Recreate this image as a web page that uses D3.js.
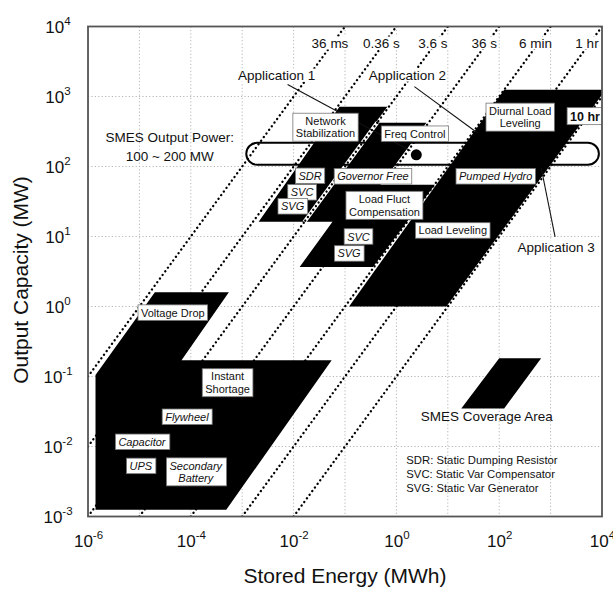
<!DOCTYPE html>
<html>
<head>
<meta charset="utf-8">
<script src="https://cdn.jsdelivr.net/npm/d3@7"></script>
<style>
  body { margin: 0; background: #fff; }
  text { font-family: "Liberation Sans", Arial, sans-serif; fill: #111; }
</style>
</head>
<body>
<svg id="chart" width="613" height="589"></svg>
<script>
// ---- data (stored energy MWh, output capacity MW) ----
var xTickVals = [1e-6, 1e-4, 1e-2, 1, 1e2, 1e4];
var xTickExp  = ["-6", "-4", "-2", "0", "2", "4"];
var yTickVals = [1e-3, 1e-2, 1e-1, 1, 1e1, 1e2, 1e3, 1e4];
var yTickExp  = ["-3", "-2", "-1", "0", "1", "2", "3", "4"];
var gridE = [1e-6, 1e-5, 1e-4, 1e-3, 1e-2, 1e-1, 1, 1e1, 1e2, 1e3, 1e4];
var gridP = [1e-3, 1e-2, 1e-1, 1, 1e1, 1e2, 1e3, 1e4];

// discharge time lines (hours) and their labels
var timeHours  = [1e-5, 1e-4, 1e-3, 1e-2, 0.1, 1, 10];
var timeLabels = ["36 ms", "0.36 s", "3.6 s", "36 s", "6 min", "1 hr", "10 hr"];

// black regions, vertices as [E, P]
var smallArea = [[1.4e-6, 0.105], [2e-5, 1.6], [5.5e-4, 1.6], [6.6e-5, 0.17], [0.055, 0.17],
                 [4.9e-4, 1.25e-3], [1.4e-6, 1.25e-3]];
var midArea = [[0.078, 716], [0.668, 716], [0.391, 423], [3.83, 423], [0.489, 54.7], [5.6, 54.7],
               [0.35, 3.67], [0.0131, 3.67], [0.0571, 16.2], [2.09e-3, 16.2]];
var bulkArea = [[125, 1250], [1e4, 1250], [1e4, 1060], [9.4, 1.0], [0.12, 1.0]];
var smesArea = [[100, 0.183], [655, 0.183], [125, 0.035], [18.3, 0.035]];
// visible gap inside the middle group, along the 3.6 s line
var midGap = [[0.423, 423], [0.0162, 16.2]];

// SMES output power band 100~200 MW
var pillE = [1.2e-3, 8700];
var pillP = [106, 218];
var smesPoint = [2.44, 147];

// boxed labels: text lines, E, P (box centre)
var boxLabels = [
  [["Voltage Drop"], 4.47e-5, 0.818],
  [["Instant", "Shortage"], 5.2e-4, 0.0815],
  [["Flywheel"], 8.4e-5, 0.0266],
  [["Capacitor"], 1.12e-5, 0.01167],
  [["UPS"], 1.07e-5, 5.28e-3],
  [["Secondary", "Battery"], 1.25e-4, 4.34e-3],
  [["Network", "Stabilization"], 0.0418, 364],
  [["Freq Control"], 2.29, 294],
  [["SDR"], 0.0209, 73.6],
  [["SVC"], 0.01462, 42.8],
  [["SVG"], 9.57e-3, 27.0],
  [["Governor Free"], 0.35, 72.4],
  [["Load Fluct", "Compensation"], 0.585, 27.9],
  [["SVC"], 0.183, 10.0],
  [["SVG"], 0.12, 5.73],
  [["Pumped Hydro"], 85.5, 72.4],
  [["Load Leveling"], 12.5, 12.2],
  [["Diurnal Load", "Leveling"], 256, 507]
];
var italicNames = ["Flywheel", "Capacitor", "UPS", "Secondary", "SDR", "SVC", "SVG", "Governor Free", "Pumped Hydro"];

var appLabels = [["Application 1", 4.68e-3, 1740], ["Application 2", 1.64, 1740], ["Application 3", 1280, 6.0]];
var appLeaders = [[[7.64e-3, 1479], [1.87, 168]], [[2.24, 1384], [37.4, 304]], [[655, 96], [1222, 9.86]]];
var legendLines = ["SDR: Static Dumping Resistor", "SVC: Static Var Compensator", "SVG: Static Var Generator"];
var legendP = [5.56e-3, 3.5e-3, 2.21e-3];

// ---- chart ----
var svg = d3.select("#chart");
var x = d3.scaleLog().domain([1e-6, 1e4]).range([88, 602]);
var y = d3.scaleLog().domain([1e-3, 1e4]).range([516.5, 26.5]);
var pTop = y.range()[1], pBottom = y.range()[0], pLeft = x.range()[0], pRight = x.range()[1];

svg.append("defs").append("clipPath").attr("id", "plotclip")
  .append("rect").attr("x", pLeft).attr("y", pTop).attr("width", pRight - pLeft).attr("height", pBottom - pTop);

var plot = svg.append("g").attr("clip-path", "url(#plotclip)");

// grid
plot.selectAll(".gx").data(gridE).enter().append("line")
  .attr("x1", function(d) { return x(d); }).attr("x2", function(d) { return x(d); })
  .attr("y1", pTop).attr("y2", pBottom)
  .attr("stroke", "#b5b5b5").attr("stroke-width", 1).attr("stroke-dasharray", "1.2,2.2");
plot.selectAll(".gy").data(gridP).enter().append("line")
  .attr("y1", function(d) { return y(d); }).attr("y2", function(d) { return y(d); })
  .attr("x1", pLeft).attr("x2", pRight)
  .attr("stroke", "#b5b5b5").attr("stroke-width", 1).attr("stroke-dasharray", "1.2,2.2");

// constant time lines
function dotted(sel) {
  return sel.attr("stroke", "#000").attr("stroke-width", 2.3)
    .attr("stroke-linecap", "round").attr("stroke-dasharray", "0.1,4.4");
}
dotted(plot.selectAll(".tl").data(timeHours).enter().append("line")
  .attr("x1", function(t) { return x(Math.max(1e-6, 1e-3 * t)); })
  .attr("y1", function(t) { return y(Math.max(1e-6, 1e-3 * t) / t); })
  .attr("x2", function(t) { return x(Math.min(1e4, 1e4 * t)); })
  .attr("y2", function(t) { return y(Math.min(1e4, 1e4 * t) / t); }));

// black areas
var area = d3.line().x(function(d) { return x(d[0]); }).y(function(d) { return y(d[1]); });
plot.selectAll(".blk").data([smallArea, midArea, bulkArea, smesArea]).enter().append("path")
  .attr("d", function(d) { return area(d) + "Z"; })
  .attr("fill", "#000");

// gap with dotted line through the middle group
plot.append("path").attr("d", area(midGap)).attr("stroke", "#fff").attr("stroke-width", 4).attr("fill", "none");
dotted(plot.append("path").attr("d", area(midGap)).attr("fill", "none"));

// SMES output band
var ph = y(pillP[0]) - y(pillP[1]);
plot.append("rect")
  .attr("x", x(pillE[0])).attr("y", y(pillP[1]))
  .attr("width", x(pillE[1]) - x(pillE[0])).attr("height", ph)
  .attr("rx", ph / 2).attr("ry", ph / 2)
  .attr("fill", "none").attr("stroke", "#000").attr("stroke-width", 2);
plot.append("circle").attr("cx", x(smesPoint[0])).attr("cy", y(smesPoint[1])).attr("r", 5.5).attr("fill", "#000");

// leaders
plot.selectAll(".lead").data(appLeaders).enter().append("line")
  .attr("x1", function(d) { return x(d[0][0]); }).attr("y1", function(d) { return y(d[0][1]); })
  .attr("x2", function(d) { return x(d[1][0]); }).attr("y2", function(d) { return y(d[1][1]); })
  .attr("stroke", "#111").attr("stroke-width", 1.1);

// boxed labels
var lineH = 12.5;
boxLabels.forEach(function(b) {
  var g = plot.append("g");
  var cx = x(b[1]), cy = y(b[2]);
  var italic = italicNames.indexOf(b[0][0]) >= 0;
  var rect = g.append("rect");
  var t = g.append("text").attr("text-anchor", "middle").attr("font-size", 11)
    .attr("font-style", italic ? "italic" : "normal").attr("fill", "#222");
  b[0].forEach(function(s, i) {
    t.append("tspan").attr("x", cx)
      .attr("y", cy + 4 + (i - (b[0].length - 1) / 2) * lineH).text(s);
  });
  var bb = t.node().getBBox();
  rect.attr("x", bb.x - 3).attr("y", cy - b[0].length * lineH / 2 - 1.5)
    .attr("width", bb.width + 6).attr("height", b[0].length * lineH + 3)
    .attr("fill", "#fff").attr("stroke", "#777").attr("stroke-width", 0.8);
});

// 10 hr label box
(function() {
  var g = plot.append("g");
  var cx = x(4680), cy = y(524);
  var rect = g.append("rect");
  var t = g.append("text").attr("x", cx).attr("y", cy + 4.5).attr("text-anchor", "middle")
    .attr("font-size", 12.5).attr("font-weight", "bold").text(timeLabels[6]);
  var bb = t.node().getBBox();
  rect.attr("x", bb.x - 3).attr("y", cy - 8.5).attr("width", bb.width + 6).attr("height", 17)
    .attr("fill", "#fff").attr("stroke", "#777").attr("stroke-width", 0.8);
})();

// text on a white patch so the dotted lines pass behind it
function backed(g, tx, ty, str, size) {
  var r = g.append("rect").attr("fill", "#fff");
  var t = g.append("text").attr("x", tx).attr("y", ty).attr("text-anchor", "middle")
    .attr("font-size", size).text(str);
  var bb = t.node().getBBox();
  r.attr("x", bb.x - 1).attr("y", bb.y + 1).attr("width", bb.width + 2).attr("height", bb.height - 2);
  return t;
}

// time labels along top
timeHours.slice(0, 6).forEach(function(t, i) {
  backed(svg.append("g"), x(1e4 * t) - 15, pTop + 21, timeLabels[i], 13.5);
});

// application labels
appLabels.forEach(function(d) {
  backed(svg.append("g"), x(d[1]), y(d[2]), d[0], 13.5);
});

svg.append("text").attr("x", x(3.9e-5)).attr("y", y(226)).attr("text-anchor", "middle")
  .attr("font-size", 13.5).text("SMES Output Power:");
svg.append("text").attr("x", x(3.9e-5)).attr("y", y(121)).attr("text-anchor", "middle")
  .attr("font-size", 13.5).text("100 ~ 200 MW");
svg.append("text").attr("x", x(57.2)).attr("y", y(0.0229)).attr("text-anchor", "middle")
  .attr("font-size", 13.5).text("SMES Coverage Area");

svg.selectAll(".leg").data(legendLines).enter().append("text")
  .attr("x", x(1.56)).attr("y", function(d, i) { return y(legendP[i]); })
  .attr("font-size", 11.3).attr("fill", "#333")
  .text(function(d) { return d; });

// axes
var xAxis = svg.append("g").attr("transform", "translate(0," + pBottom + ")")
  .call(d3.axisBottom(x).tickValues(xTickVals).tickSize(0).tickFormat(""));
xAxis.select(".domain").remove();
xAxis.selectAll(".tick text").each(function(d, i) {
  var t = d3.select(this).attr("y", 30.5).attr("dy", null).attr("font-size", 17)
    .attr("font-family", "Liberation Sans, Arial, sans-serif").attr("fill", "#222");
  t.append("tspan").text("10");
  t.append("tspan").attr("dy", -8).attr("font-size", 11.5).text(xTickExp[i]);
});

var yAxis = svg.append("g").attr("transform", "translate(" + pLeft + ",0)")
  .call(d3.axisLeft(y).tickValues(yTickVals).tickSize(0).tickFormat(""));
yAxis.select(".domain").remove();
yAxis.selectAll(".tick text").each(function(d, i) {
  var t = d3.select(this).attr("x", -30).attr("dy", null).attr("y", 6).attr("text-anchor", "middle")
    .attr("font-size", 17).attr("font-family", "Liberation Sans, Arial, sans-serif").attr("fill", "#222");
  t.append("tspan").text("10");
  t.append("tspan").attr("dy", -8).attr("font-size", 11.5).text(yTickExp[i]);
});

// frame
svg.append("rect").attr("x", pLeft).attr("y", pTop).attr("width", pRight - pLeft).attr("height", pBottom - pTop)
  .attr("fill", "none").attr("stroke", "#555").attr("stroke-width", 1.8);

// axis titles
svg.append("text").attr("x", (pLeft + pRight) / 2).attr("y", 583).attr("text-anchor", "middle")
  .attr("font-size", 21).attr("fill", "#222").text("Stored Energy (MWh)");
svg.append("text").attr("transform", "translate(28,280) rotate(-90)").attr("text-anchor", "middle")
  .attr("font-size", 21).attr("fill", "#222").text("Output Capacity (MW)");
</script>
</body>
</html>
